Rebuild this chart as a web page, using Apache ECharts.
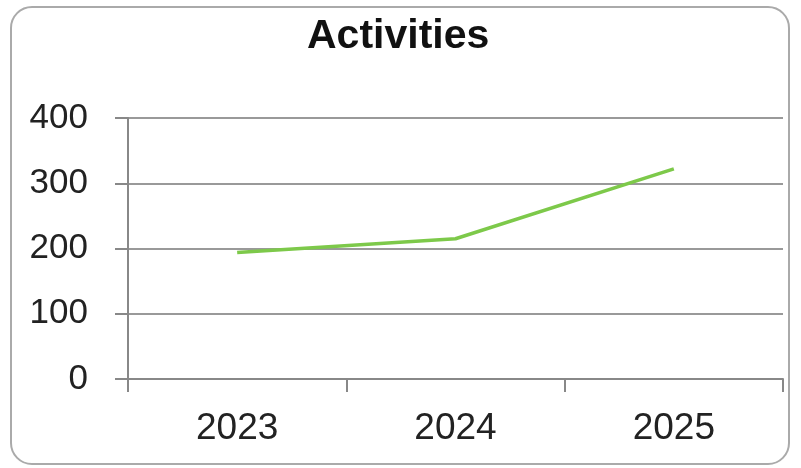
<!DOCTYPE html>
<html>
<head>
<meta charset="utf-8">
<script src="https://cdn.jsdelivr.net/npm/echarts@6/dist/echarts.min.js"></script>
<style>
  html, body { margin: 0; padding: 0; background: #fff; }
  #frame {
    position: absolute; left: 10px; top: 6px; width: 780px; height: 459px;
    border: 2px solid #aaa; border-radius: 22px; box-sizing: border-box;
  }
  #main { position: absolute; left: 0; top: 0; width: 801px; height: 468px; }
</style>
</head>
<body>
<div id="frame"></div>
<div id="main"></div>
<script>
// 数据
var years = ['2023', '2024', '2025'];
var activities = [194, 215, 322];
var yTicks = { min: 0, max: 400, interval: 100 };

var myChart = echarts.init(document.getElementById('main'));

var option = {
    title: {
        text: 'Activities',
        left: 302,
        top: 11,
        textStyle: {
            color: '#111',
            fontFamily: 'Liberation Sans',
            fontWeight: 'bold',
            fontSize: 41
        }
    },
    grid: {
        left: 128,
        right: 18,
        top: 118,
        bottom: 89
    },
    xAxis: {
        type: 'category',
        data: years,
        boundaryGap: true,
        axisLine: { lineStyle: { color: '#888', width: 2 } },
        axisTick: { show: true, length: 13, lineStyle: { color: '#888', width: 2 } },
        axisLabel: {
            color: '#222',
            fontFamily: 'Liberation Sans',
            fontSize: 37,
            margin: 31
        }
    },
    yAxis: {
        type: 'value',
        min: yTicks.min,
        max: yTicks.max,
        interval: yTicks.interval,
        axisLine: { show: true, lineStyle: { color: '#888', width: 2 } },
        axisTick: { show: true, length: 13, lineStyle: { color: '#888', width: 2 } },
        splitLine: { lineStyle: { color: '#999', width: 2 } },
        axisLabel: {
            color: '#222',
            fontFamily: 'Liberation Sans',
            fontSize: 35,
            margin: 40
        }
    },
    series: [{
        name: 'Activities',
        type: 'line',
        data: activities,
        symbol: 'none',
        lineStyle: { color: '#7dc94a', width: 3.5 }
    }]
};

myChart.setOption(option);
</script>
</body>
</html>
